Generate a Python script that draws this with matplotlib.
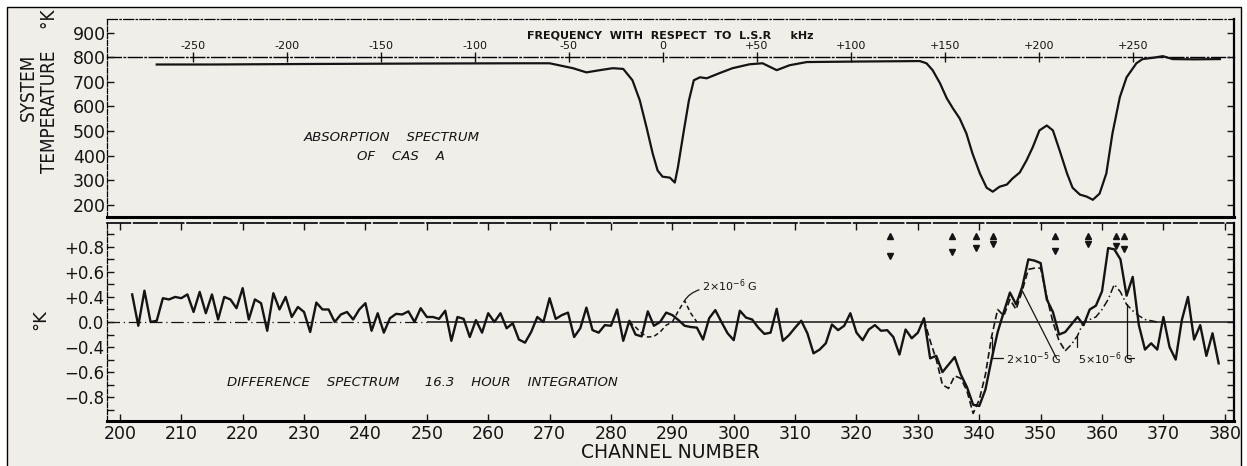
import numpy as np
import matplotlib
matplotlib.use("Agg")
import matplotlib.pyplot as plt
from matplotlib import font_manager
from matplotlib.patches import Rectangle

# ---- data ----
# absorption spectrum (system temperature, K) vs channel
abs_ch = [206, 215, 230, 250, 265, 270, 273.8, 276, 278.2, 280.3, 282, 283.5, 284.7,
          285.8, 286.8, 287.6, 288.4, 289.6, 290.4, 290.9, 291.8, 292.7, 293.5, 294.5,
          295.6, 297.7, 299.8, 302.6, 304.7, 307, 309.1, 311.9, 320, 330.3, 331.4,
          332.4, 333.6, 334.7, 335.7, 336.8, 337.9, 338.9, 340.1, 341.2, 342.2, 343.3,
          344.5, 345.4, 346.6, 347.7, 348.7, 349.8, 351, 352, 353.1, 354.3, 355.2,
          356.4, 357.5, 358.5, 359.6, 360.7, 361.7, 362.9, 364, 365.6, 366.6, 368.5,
          369.9, 371.5, 375, 379.2]
abs_temp = [770, 770, 772, 774, 775, 775, 755, 738, 747, 755, 752, 706, 624,
            514, 408, 339, 314, 310, 290, 351, 490, 624, 706, 718,
            714, 735, 755, 771, 775, 747, 767, 780, 782, 784, 775,
            747, 694, 633, 592, 551, 490, 408, 327, 269, 253, 273,
            282, 306, 331, 380, 433, 502, 522, 502, 420, 327, 269,
            241, 233, 220, 245, 327, 490, 637, 718, 775, 792, 798,
            804, 792, 791, 792]

# difference spectrum, channels 202..379 (plotted in tick units)
diff_ch = np.arange(202, 380)
diff_val = [0.22, -0.03, 0.25, 0.00, 0.01, 0.19, 0.18, 0.20, 0.19, 0.22,
            0.08, 0.24, 0.07, 0.22, 0.02, 0.20, 0.18, 0.11, 0.27, 0.02,
            0.18, 0.15, -0.07, 0.23, 0.10, 0.20, 0.04, 0.12, 0.08, -0.08,
            0.155, 0.10, 0.10, 0.00, 0.06, 0.08, 0.02, 0.10, 0.15, -0.07,
            0.07, -0.085, 0.03, 0.065, 0.06, 0.085, 0.00, 0.11, 0.04, 0.04,
            0.025, 0.09, -0.15, 0.04, 0.025, -0.12, 0.015, -0.085, 0.07, 0.00,
            0.07, -0.05, -0.01, -0.14, -0.165, -0.08, 0.04, 0.00, 0.19, 0.025,
            0.055, 0.075, -0.12, -0.05, 0.115, -0.065, -0.085, -0.025, -0.03, 0.10,
            -0.15, 0.01, -0.10, -0.115, 0.085, -0.03, 0.00, 0.075, 0.055, 0.015,
            -0.03, -0.04, -0.045, -0.14, 0.03, 0.095, 0.00, -0.09, -0.145, 0.09,
            0.035, 0.02, -0.045, -0.095, -0.085, 0.105, -0.15, -0.105, -0.045, 0.01,
            -0.09, -0.25, -0.22, -0.17, -0.02, -0.065, -0.03, 0.07, -0.085, -0.145,
            -0.06, -0.025, -0.07, -0.065, -0.12, -0.26, -0.06, -0.13, -0.085, 0.03,
            -0.29, -0.27, -0.40, -0.34, -0.28, -0.42, -0.52, -0.66, -0.67, -0.54,
            -0.30, -0.08, 0.08, 0.235, 0.14, 0.28, 0.50, 0.49, 0.47, 0.18,
            0.08, -0.10, -0.08, -0.02, 0.04, -0.025, 0.10, 0.13, 0.245, 0.59,
            0.58, 0.50, 0.21, 0.36, -0.025, -0.22, -0.17, -0.22, 0.04, -0.20,
            -0.30, 0.015, 0.20, -0.14, -0.025, -0.27, -0.09, -0.33]

# model curves
model_a_ch = [283, 284, 285, 286, 287, 288, 289, 290, 291, 292, 293, 294]
model_a = [0.0, -0.04, -0.09, -0.12, -0.115, -0.08, -0.025, 0.0, 0.09, 0.17, 0.07, 0.0]
model_b_ch = [331, 332, 333, 334, 335, 336, 337, 338, 339, 340, 341, 342,
              343, 344, 345, 346, 347, 348, 349, 350, 351, 352, 353, 354]
model_b = [0.02, -0.15, -0.30, -0.50, -0.53, -0.43, -0.45, -0.55, -0.73, -0.62, -0.42, -0.12,
           0.10, 0.05, 0.18, 0.10, 0.25, 0.42, 0.43, 0.43, 0.20, 0.00, -0.15, -0.23]
model_c_ch = [354, 355, 356, 357, 358, 359, 360, 361, 362, 363, 364, 365, 366, 367, 368, 369]
model_c = [-0.23, -0.18, -0.11, 0.0, 0.02, 0.04, 0.10, 0.18, 0.30, 0.24, 0.14, 0.09,
           0.05, 0.02, 0.01, 0.0]

# triangle markers
mark_ch = [325.5, 335.6, 339.4, 342.2, 352.4, 357.7, 362.2, 363.5]
mark_up = 0.69
mark_down = [0.53, 0.56, 0.59, 0.62, 0.57, 0.62, 0.61, 0.58]

temp_ticks = [200, 300, 400, 500, 600, 700, 800, 900]
khz_ticks = [-250, -200, -150, -100, -50, 0, 50, 100, 150, 200, 250]
khz_labels = ['-250', '-200', '-150', '-100', '-50', '0', '+50', '+100', '+150', '+200', '+250']
dk_ticks = [-0.6, -0.4, -0.2, 0.0, 0.2, 0.4, 0.6]
dk_labels = ['\u22120.8', '\u22120.6', '\u22120.4', '0.0', '+0.4', '+0.6', '+0.8']

KHZ0 = 288.45
KHZ_PER_CH = 3.266

INK = '#141414'
PAPER = '#efeee9'

plt.rcParams['font.family'] = ['DejaVu Sans']

# narrow lettering for the rotated axis titles, if a condensed face is there
cond = [f for f in font_manager.fontManager.ttflist
        if f.name == 'DejaVu Sans' and 'condensed' in str(f.stretch)
        and f.style == 'normal' and f.weight in (400, 'normal')]
if cond:
    narrow = dict(fontproperties=font_manager.FontProperties(fname=cond[0].fname, size=13.5))
    temp_title = 'TEMPERATURE    \u00b0K'
else:
    narrow = dict(fontsize=11)
    temp_title = 'TEMPERATURE  \u00b0K'

fig = plt.figure(figsize=(12.47, 4.66), dpi=100)
fig.patch.set_facecolor('white')
fig.patches.append(Rectangle((7 / 1247, -0.05), (1241 - 7) / 1247, 1 - 7 / 466 + 0.05,
                             transform=fig.transFigure, facecolor=PAPER,
                             edgecolor='black', lw=1.0, zorder=-10))

xlim = (197.9, 381.5)

# ---- top panel ----
ax1 = fig.add_axes([107 / 1247, 1 - 217 / 466, 1127 / 1247, 198 / 466])
ax1.patch.set_alpha(0)
ax1.plot(abs_ch, abs_temp, color=INK, lw=1.6)
ax1.set_xlim(*xlim)
ax1.set_ylim(150, 955)
ax1.set_yticks(temp_ticks)
ax1.tick_params(axis='y', direction='in', length=5, width=1, labelsize=12.5, pad=1,
                right=True, colors=INK)
ax1.tick_params(axis='x', bottom=False, labelbottom=False)
ax1.spines['left'].set_linestyle((0, (4, 1.5)))
ax1.spines['left'].set_linewidth(0.9)
ax1.spines['top'].set_linestyle((0, (8, 2, 1, 2)))
ax1.spines['top'].set_linewidth(0.9)
ax1.spines['bottom'].set_linewidth(2.2)
ax1.spines['right'].set_linewidth(1.6)

loc800 = (800 - 150) / (955 - 150)
sec = ax1.secondary_xaxis(loc800, functions=(lambda c: (c - KHZ0) * KHZ_PER_CH,
                                              lambda f: f / KHZ_PER_CH + KHZ0))
sec.set_xticks(khz_ticks)
sec.set_xticklabels(khz_labels)
sec.tick_params(direction='inout', length=7, width=1, labelsize=8, pad=1, colors=INK)
sec.spines['bottom'].set_visible(False)
sec.spines['top'].set_linestyle((0, (10, 2, 1, 2)))
sec.spines['top'].set_linewidth(1.0)
sec.set_xlabel('FREQUENCY  WITH  RESPECT  TO  L.S.R     kHz', fontsize=8,
               fontweight='bold', labelpad=2, color=INK)

ax1.text(230, 473, 'ABSORPTION    SPECTRUM', fontsize=9.5, style='italic',
         va='center', ha='left', color=INK)
ax1.text(238.6, 396, 'OF    CAS    A', fontsize=9.5, style='italic',
         va='center', ha='left', color=INK)

fig.text(28 / 1247, 1 - 87 / 466, 'SYSTEM', rotation=90,
         ha='center', va='center', color=INK, **narrow)
fig.text(50 / 1247, 1 - 91 / 466, temp_title, rotation=90,
         ha='center', va='center', color=INK, **narrow)

# ---- bottom panel ----
ax2 = fig.add_axes([107 / 1247, 1 - 421 / 466, 1127 / 1247, 198 / 466])
ax2.patch.set_alpha(0)
ax2.hlines(0, xlim[0], 250, color=INK, lw=0.9, linestyles=(0, (10, 3, 1, 3)))
ax2.hlines(0, 250, xlim[1], color=INK, lw=1.1)
ax2.plot(diff_ch, diff_val, color=INK, lw=1.7)
ax2.plot(model_a_ch, model_a, color=INK, lw=1.1, ls=(0, (3, 2)))
ax2.plot(model_b_ch, model_b, color=INK, lw=1.2, ls=(0, (4, 2)))
ax2.plot(model_c_ch, model_c, color=INK, lw=1.1, ls=(0, (5, 2, 1, 2)))
ax2.plot(mark_ch, [mark_up] * len(mark_ch), '^', color=INK, ms=5)
ax2.plot(mark_ch, mark_down, 'v', color=INK, ms=5)

ax2.set_xlim(*xlim)
ax2.set_ylim(-0.79, 0.79)
ax2.set_xticks(np.arange(200, 381, 10))
ax2.set_yticks(dk_ticks)
ax2.set_yticklabels(dk_labels)
ax2.set_yticks(np.arange(-0.7, 0.71, 0.1), minor=True)
ax2.tick_params(axis='x', direction='in', length=5, width=1, labelsize=12.5, pad=3,
                top=True, colors=INK)
ax2.tick_params(axis='y', which='both', direction='in', length=5, width=1,
                labelsize=12, pad=2, right=True, colors=INK)
ax2.spines['left'].set_linestyle((0, (4, 1.5)))
ax2.spines['left'].set_linewidth(0.9)
ax2.spines['top'].set_linestyle((0, (14, 2)))
ax2.spines['top'].set_linewidth(1.2)
ax2.spines['bottom'].set_linewidth(2.2)
ax2.spines['right'].set_linewidth(1.6)
ax2.set_xlabel('CHANNEL NUMBER', fontsize=13.5, labelpad=0, color=INK)
fig.text(40 / 1247, 1 - 320 / 466, '\u00b0K', rotation=90, fontsize=13,
         ha='center', va='center', color=INK)

ax2.text(217.4, -0.48, 'DIFFERENCE    SPECTRUM      16.3    HOUR    INTEGRATION',
         fontsize=9.5, style='italic', va='center', ha='left', color=INK)

leader = dict(arrowstyle='-', color=INK, lw=0.9, shrinkA=0, shrinkB=0)
ax2.annotate('2\u00d710$^{-6}$ G', xy=(model_a_ch[9], model_a[9]), xytext=(294.8, 0.29),
             fontsize=8, va='center', ha='left', color=INK,
             arrowprops=dict(leader, connectionstyle='angle3,angleA=0,angleB=60'))
ax2.annotate('2\u00d710$^{-5}$ G', xy=(model_b_ch[11], model_b[11]), xytext=(344.4, -0.29),
             fontsize=8, va='center', ha='left', color=INK,
             arrowprops=dict(leader, connectionstyle='angle,angleA=180,angleB=90,rad=0'))
ax2.annotate('', xy=(model_b_ch[16], model_b[16]), xytext=(352.6, -0.29),
             arrowprops=leader)
ax2.annotate('5\u00d710$^{-6}$ G', xy=(model_c_ch[2], model_c[2]), xytext=(356.1, -0.29),
             fontsize=8, va='center', ha='left', color=INK,
             arrowprops=dict(leader, connectionstyle='angle,angleA=180,angleB=90,rad=0'))
ax2.annotate('', xy=(model_c_ch[10], model_c[10]), xytext=(365.2, -0.29),
             arrowprops=dict(leader, connectionstyle='angle,angleA=0,angleB=90,rad=0'))

fig.savefig('out.png', dpi=100, facecolor=fig.get_facecolor())
